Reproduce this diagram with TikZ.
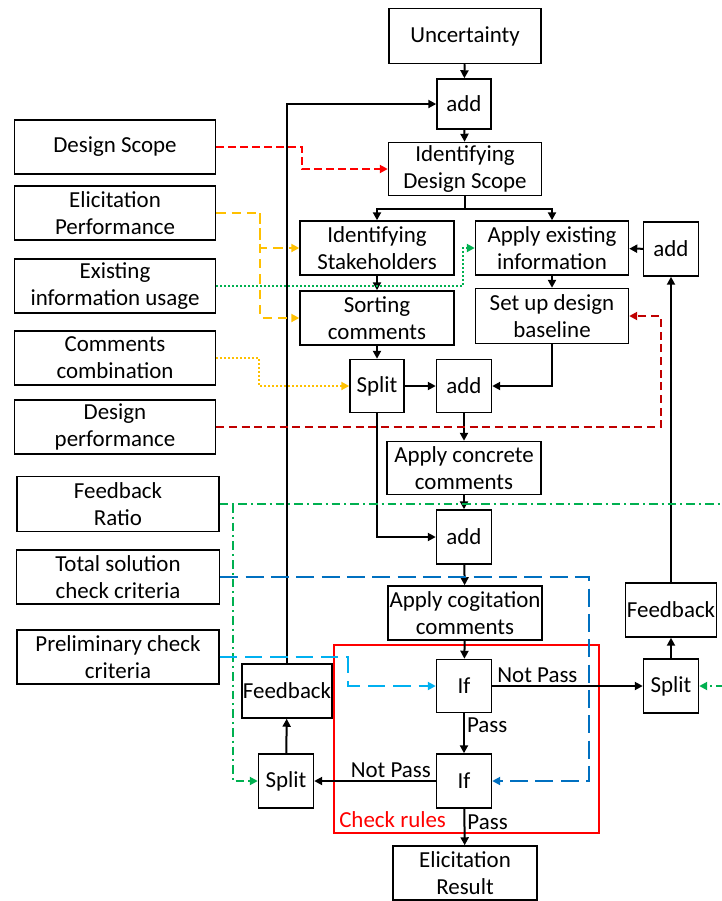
\documentclass[tikz,border=0pt]{standalone}
\usepackage{fontspec}
\setmainfont{Carlito}
\usetikzlibrary{arrows.meta}

\definecolor{cRed}{HTML}{FF0000}
\definecolor{cDarkRed}{HTML}{C00000}
\definecolor{cOrange}{HTML}{FFC000}
\definecolor{cGreen}{HTML}{00B050}
\definecolor{cBlue}{HTML}{0070C0}
\definecolor{cSky}{HTML}{00B0F0}

\begin{document}
\begin{tikzpicture}[x=0.75pt,y=-0.75pt,
  txt/.style={font=\fontsize{17.2}{20.25}\selectfont},
  box/.style={txt, draw=black, line width=1.1pt, fill=white, align=center, inner sep=0pt,
    execute at begin node={\vspace*{3pt}}},
  sz/.style 2 args={minimum width=#1*0.75pt, minimum height=#2*0.75pt},
  tip/.style={-{Triangle[length=6pt,width=6pt]}},
  flow/.style={tip, line width=1.5pt, draw=black},
  lbl/.style={txt, inner sep=1.5pt},
  redDash/.style={tip, line width=1.5pt, draw=cRed, dash pattern=on 6pt off 3pt},
  orangeDash/.style={tip, line width=1.5pt, draw=cOrange, dash pattern=on 7pt off 4.5pt},
  greenDot/.style={tip, line width=1.5pt, draw=cGreen, dash pattern=on 1.5pt off 1.5pt},
  orangeDot/.style={tip, line width=1.5pt, draw=cOrange, dash pattern=on 1.5pt off 1.5pt},
  darkRedDash/.style={tip, line width=1.5pt, draw=cDarkRed, dash pattern=on 6pt off 3.5pt},
  greenDashDot/.style={tip, line width=1.5pt, draw=cGreen, dash pattern=on 6.5pt off 3pt on 1.5pt off 3pt},
  blueLong/.style={tip, line width=1.5pt, draw=cBlue, dash pattern=on 13.5pt off 5.5pt},
  skyLong/.style={tip, line width=1.5pt, draw=cSky, dash pattern=on 13pt off 6pt},
]
\useasboundingbox (0,0) rectangle (722,901);
\fill[white] (0,0) rectangle (722,901);
\clip (0,0) rectangle (722,901);

% check-rules frame
\node[draw=cRed, line width=1.5pt, sz={265}{188}, inner sep=0pt] (chk) at (466.5,739) {};
\node[txt, text=cRed, anchor=west, inner sep=0pt] (chklbl) at (339,820) {Check rules};

% main process column
\node[box, sz={152}{55}] (unc)   at (465,36)  {Uncertainty};
\node[box, sz={54}{50}]  (add1)  at (464,104) {add};
\node[box, sz={153}{53}] (ids)   at (465,169) {Identifying\\Design Scope};
\node[box, sz={154}{54}] (is)    at (377,248) {Identifying\\Stakeholders};
\node[box, sz={153}{54}] (aei)   at (552,248) {Apply existing\\information};
\node[box, sz={55}{54}]  (addR)  at (671,249) {add};
\node[box, sz={154}{54}] (sc)    at (377,318) {Sorting\\comments};
\node[box, sz={153}{55}] (sdb)   at (552,316) {Set up design\\baseline};
\node[box, sz={54}{53}]  (spl1)  at (377,386) {Split};
\node[box, sz={55}{53}]  (add2)  at (464,386) {add};
\node[box, sz={154}{53}] (acc)   at (464,468) {Apply concrete\\comments};
\node[box, sz={55}{54}]  (add3)  at (464,537) {add};
\node[box, sz={154}{54}] (acog)  at (465,613) {Apply cogitation\\comments};
\node[box, sz={55}{53}]  (if1)   at (464,686) {If};
\node[box, sz={55}{54}]  (if2)   at (464,781) {If};
\node[box, sz={144}{54}] (res)   at (465,873) {Elicitation\\Result};
\node[box, sz={90}{54}]  (fbL)   at (287,691) {Feedback};
\node[box, sz={55}{54}]  (spL)   at (286,781) {Split};
\node[box, sz={55}{54}]  (spR)   at (671,686) {Split};
\node[box, sz={91}{54}]  (fbR)   at (671,610) {Feedback};

% input boxes on the left
\node[box, sz={201}{54}] (ds)  at (115,147) {Design Scope};
\node[box, sz={201}{54}] (ep)  at (115,213) {Elicitation\\Performance};
\node[box, sz={201}{54}] (eiu) at (115,286) {Existing\\information usage};
\node[box, sz={201}{54}] (cc)  at (115,358) {Comments\\combination};
\node[box, sz={201}{54}] (dp)  at (115,427) {Design\\performance};
\node[box, sz={202}{55}] (fr)  at (118,504) {Feedback\\Ratio};
\node[box, sz={203}{54}] (ts)  at (118,577) {Total solution\\check criteria};
\node[box, sz={202}{54}] (pc)  at (118,657) {Preliminary check\\criteria};

% black process flow
\draw[flow] (unc) -- (add1);
\draw[flow] (add1) -- (ids);
\draw[flow] (ids.south) -- ++(0,13) -| (is.north);
\draw[flow] (ids.south) -- ++(0,13) -| (aei.north);
\draw[flow] (is) -- (sc);
\draw[flow] (aei) -- (sdb);
\draw[flow] (sc) -- (spl1);
\draw[flow] (spl1) -- (add2);
\draw[flow] (sdb.south) |- (add2.east);
\draw[flow] (add2) -- (acc);
\draw[flow] (spl1.south) |- (add3.west);
\draw[flow] (acc) -- (add3);
\draw[flow] (add3) -- (acog);
\draw[flow] (acog) -- (if1);
\draw[flow] (if1) -- node[lbl, right, pos=0.3] {Pass} (if2);
\draw[flow] (if1) -- node[lbl, above, pos=0.3] {Not Pass} (spR);
\draw[flow] (if2) -- node[lbl, above, pos=0.37] {Not Pass} (spL);
\draw[flow] (if2) -- node[lbl, right, pos=0.38] {Pass} (res);
\draw[flow] (spL) -- (fbL);
\draw[flow] (fbL.north) |- (add1.west);
\draw[flow] (spR) -- (fbR);
\draw[flow] (fbR) -- (addR);
\draw[flow] (addR) -- (aei);

% coloured inputs
\draw[redDash] (ds.east) -- ++(86,0) |- (ids.west);
\draw[orangeDash] (ep.east) -- ++(44,0) coordinate (epj) |- (is.west);
\draw[orangeDash] (epj) |- (sc.west);
\draw[greenDot] (eiu.east) -- ++(246.5,0) |- (aei.west);
\draw[orangeDot] (cc.east) -- ++(43,0) |- (spl1.west);
\draw[darkRedDash] (dp.east) -- ++(444.5,0) |- (sdb.east);
\draw[greenDashDot] (fr.east) -- ++(13,0) coordinate (frj) -- (745,504) |- (spR.east);
\draw[greenDashDot] (frj) |- (spL.west);
\draw[blueLong] (ts.east) -- ++(368.5,0) |- (if2.east);
\draw[skyLong] (pc.east) -- ++(128,0) |- (if1.west);
\end{tikzpicture}
\end{document}
